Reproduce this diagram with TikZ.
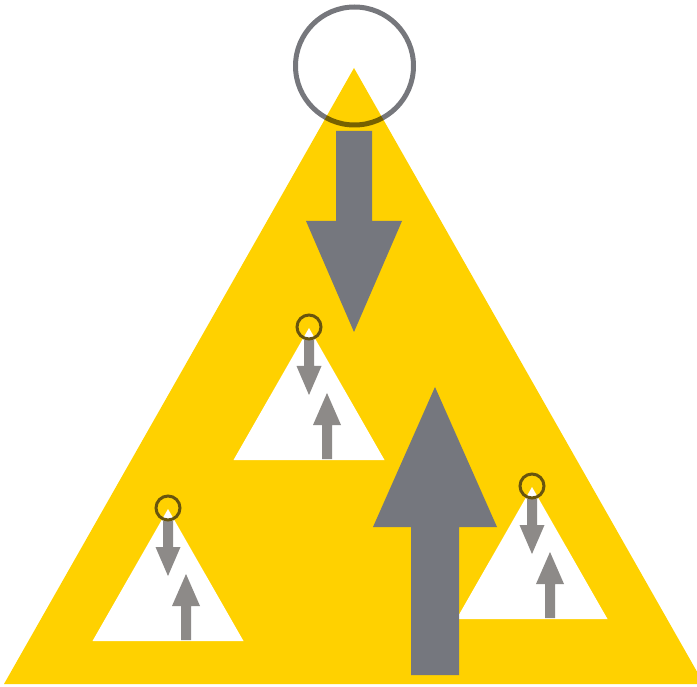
\documentclass[tikz,border=0pt]{standalone}
\usepackage{xcolor}
\definecolor{signyellow}{RGB}{255,209,0}
\definecolor{arrowgray}{RGB}{117,119,126}
\definecolor{minigray}{RGB}{141,138,136}
\definecolor{ringgray}{RGB}{118,119,124}
\definecolor{ringolive}{RGB}{104,84,14}
\usepackage{tikz}

\begin{document}
\begin{tikzpicture}[x=1pt, y=-1pt,
  bigtri/.style={fill=signyellow},
  minitri/.style={fill=white},
  bigarr/.style={fill=arrowgray},
  miniarr/.style={fill=minigray},
  bigring/.style={draw=ringgray, line width=5pt},
  miniring/.style={draw=ringolive, line width=3pt}
]
\useasboundingbox (0,0) rectangle (697,687);
\clip (0,0) rectangle (697,687);
\fill[bigtri] (354,68) -- (4,684) -- (704,684) -- cycle;
\begin{scope}[blend mode=multiply]
  \draw[bigring] (354.5,66) circle[radius=59];
\end{scope}
\fill[bigarr] (336,131) -- (372,131) -- (372,221) -- (402,221) -- (354,332)
  -- (306,221) -- (336,221) -- cycle;
\foreach \ax/\ay in {309/328, 168/509, 532/487} {
  \begin{scope}[shift={(\ax,\ay)}]
    \fill[minitri] (0,0) -- (-75.5,132) -- (75.5,132) -- cycle;
    \fill[miniarr] (-5,12) -- (5,12) -- (5,38) -- (12.5,38) -- (0,67)
      -- (-12.5,38) -- (-5,38) -- cycle;
    \fill[miniarr] (13,131) -- (13,97) -- (4,97) -- (18,65) -- (32,97)
      -- (23,97) -- (23,131) -- cycle;
    \draw[miniring] (0,-1) circle[radius=12];
  \end{scope}
}
\fill[bigarr] (411,675) -- (411,527) -- (373,527) -- (435,387) -- (497,527)
  -- (459,527) -- (459,675) -- cycle;
\end{tikzpicture}
\end{document}
